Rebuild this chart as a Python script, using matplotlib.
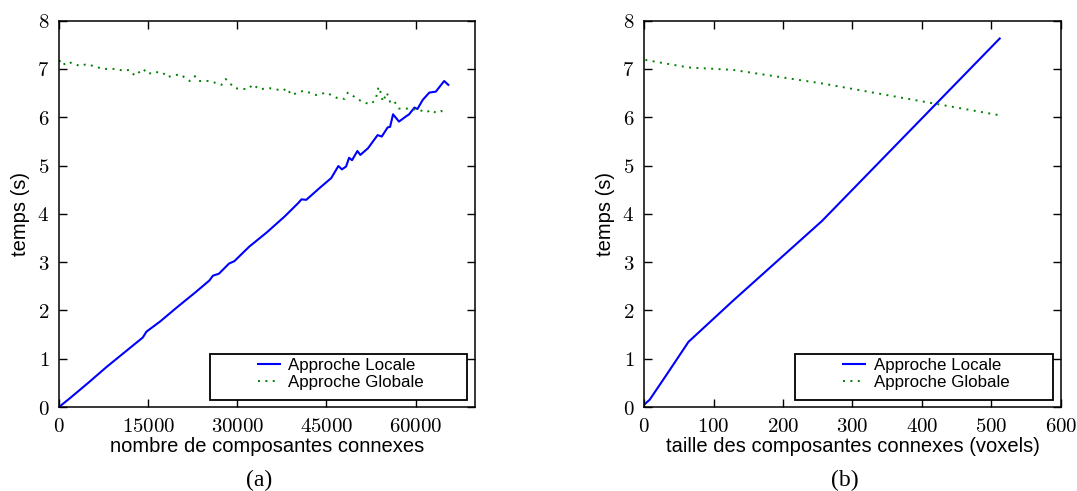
import matplotlib
matplotlib.use('Agg')
import matplotlib.pyplot as plt
from matplotlib.patches import Rectangle
from matplotlib.ticker import FuncFormatter, MultipleLocator

# (a) temps vs nombre de composantes connexes
nb_locale = [0, 2000, 5000, 8000, 11000, 14100, 14700, 17000, 20000, 23000,
             25300, 25900, 26900, 28600, 29500, 32000, 35000, 38000, 40300,
             40800, 41600, 43800, 45800, 47000, 47600, 48300, 48800, 49300,
             50200, 50700, 52000, 53600, 54300, 55300, 55700, 56200, 57200,
             58300, 58900, 59800, 60300, 61200, 62300, 63400, 64800, 65500]
t_locale_a = [0.0, 0.2, 0.51, 0.83, 1.13, 1.44, 1.56, 1.77, 2.08, 2.38,
              2.62, 2.72, 2.76, 2.97, 3.02, 3.32, 3.62, 3.95, 4.23,
              4.30, 4.29, 4.53, 4.74, 4.99, 4.92, 4.98, 5.16, 5.11,
              5.30, 5.22, 5.36, 5.63, 5.60, 5.79, 5.80, 6.06, 5.91,
              6.01, 6.06, 6.20, 6.17, 6.36, 6.51, 6.53, 6.75, 6.67]

nb_globale = [0, 450, 1010, 1970, 3530, 4650, 7440, 9690, 10800, 11810,
              12770, 14160, 15000, 15840, 17520, 18090, 20330, 22010, 22850,
              23520, 25370, 27330, 28060, 29570, 31800, 32640, 33650, 35450,
              37680, 38350, 39090, 41160, 43290, 44970, 46920, 48050, 48600,
              51120, 52420, 53260, 53760, 54210, 54480, 55150, 55780, 56450,
              57170, 58410, 60650, 61770, 62610, 63450, 64290, 65230]
t_globale_a = [7.15, 7.19, 7.08, 7.13, 7.06, 7.10, 7.00, 7.00, 6.96, 6.98,
               6.86, 7.00, 6.89, 6.94, 6.92, 6.83, 6.89, 6.75, 6.85,
               6.75, 6.75, 6.67, 6.79, 6.60, 6.58, 6.68, 6.58, 6.60,
               6.55, 6.60, 6.46, 6.55, 6.46, 6.51, 6.39, 6.38, 6.51,
               6.31, 6.27, 6.36, 6.63, 6.48, 6.32, 6.51, 6.29, 6.32,
               6.18, 6.18, 6.15, 6.10, 6.15, 6.09, 6.13, 6.07]

# (b) temps vs taille des composantes connexes
taille = [2, 4, 8, 16, 32, 64, 128, 256, 512]
t_locale_b = [0.07, 0.10, 0.15, 0.32, 0.66, 1.35, 2.20, 3.85, 7.63]
t_globale_b = [7.19, 7.18, 7.17, 7.15, 7.11, 7.03, 6.98, 6.70, 6.04]

plt.rcParams['mathtext.fontset'] = 'cm'
plt.rcParams['font.family'] = ['Liberation Sans', 'DejaVu Sans']

fig = plt.figure(figsize=(10.77, 4.91), dpi=100)
ax1 = fig.add_axes([0.0548, 0.171, 0.3863, 0.787])
ax2 = fig.add_axes([0.598, 0.171, 0.387, 0.787])

cm_fmt = FuncFormatter(lambda v, p: r'$%d$' % round(v))

def setup(ax, xmax, xstep, xlabel):
    ax.set_xlim(0, xmax)
    ax.set_ylim(0, 8)
    ax.xaxis.set_major_locator(MultipleLocator(xstep))
    ax.yaxis.set_major_locator(MultipleLocator(1))
    ax.xaxis.set_major_formatter(cm_fmt)
    ax.yaxis.set_major_formatter(cm_fmt)
    ax.tick_params(direction='in', top=True, right=True, length=6,
                   width=1, labelsize=15, pad=7)
    for s in ax.spines.values():
        s.set_linewidth(1.1)
    ax.set_xlabel(xlabel, fontsize=14.5, labelpad=1)
    ax.set_ylabel('temps (s)', fontsize=14.5, labelpad=5)
    # legend frame is wider than the entries, as in the original
    ax.add_patch(Rectangle((0.363, 0.018), 0.618, 0.119, transform=ax.transAxes,
                           facecolor='white', edgecolor='black', lw=1.3, zorder=4))
    leg = ax.legend(loc='center left', bbox_to_anchor=(0.478, 0.085),
                    fontsize=12.2, frameon=False, borderpad=0, borderaxespad=0,
                    handlelength=1.3, handletextpad=0.5, labelspacing=0.1)
    leg.set_zorder(5)

ax1.plot(nb_locale, t_locale_a, color='blue', lw=1.5, label='Approche Locale')
ax1.plot(nb_globale, t_globale_a, color=(0, 0.5, 0), lw=1.4,
         dashes=(1, 2.8), label='Approche Globale')
setup(ax1, 70000, 15000, 'nombre de composantes connexes')

ax2.plot(taille, t_locale_b, color='blue', lw=1.5, label='Approche Locale')
ax2.plot(taille, t_globale_b, color=(0, 0.5, 0), lw=1.4,
         dashes=(1, 2.8), label='Approche Globale')
setup(ax2, 600, 100, 'taille des composantes connexes (voxels)')

fig.text(0.241, 0.022, '(a)', fontsize=17, family='Liberation Serif',
         ha='center', va='center')
fig.text(0.7846, 0.022, '(b)', fontsize=17, family='Liberation Serif',
         ha='center', va='center')

fig.savefig('out.png', dpi=100)
